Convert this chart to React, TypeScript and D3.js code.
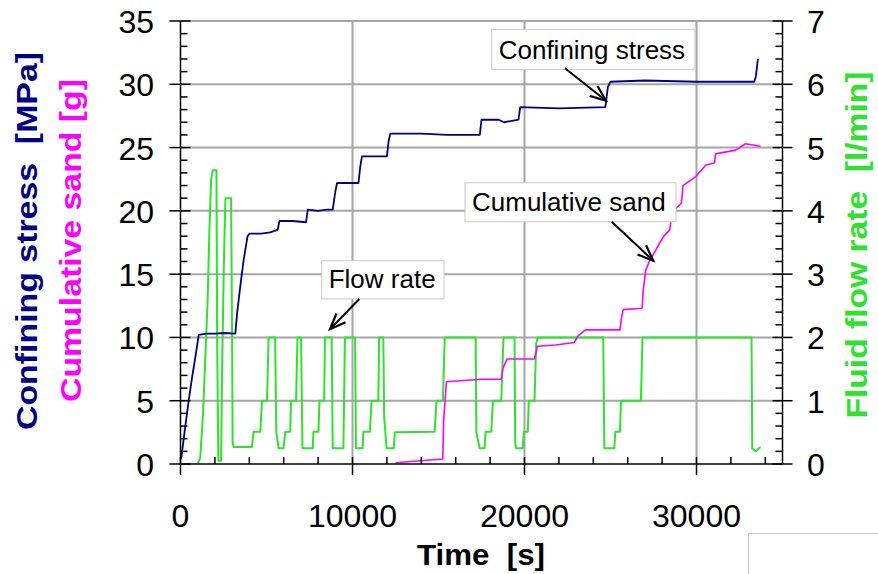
import * as d3 from "d3";

// time [s], confining stress [MPa]
const stress: [number, number][] = [
  [0, 0.4], [60, 0.58], [190, 2.05], [480, 5.05], [680, 6.9], [870, 8.5], [1060, 10.2],
  [1500, 10.3], [2000, 10.3], [2500, 10.35], [3190, 10.3], [3290, 11.9], [3480, 14.1],
  [3670, 16.1], [3900, 18.0], [4000, 18.2], [4700, 18.2], [5200, 18.3], [5650, 18.5],
  [5750, 19.2], [6500, 19.2], [7300, 19.1], [7400, 20.1], [8000, 20.0], [8500, 20.1],
  [8850, 20.1], [9000, 21.5], [9100, 22.2], [10350, 22.2], [10450, 23.5], [10550, 24.3],
  [12000, 24.3], [12100, 25.5], [12200, 26.1], [14000, 26.1], [15500, 26.0], [16500, 26.0],
  [17400, 26.0], [17500, 27.2], [18500, 27.2], [18800, 27.0], [19650, 27.2], [19750, 28.2],
  [22000, 28.1], [24700, 28.2], [24850, 29.8], [25000, 30.2], [27000, 30.3], [30000, 30.2],
  [33350, 30.2], [33450, 30.6], [33570, 32.0],
];

// time [s], cumulative sand [g]
const sand: [number, number][] = [
  [12500, 0.1], [13400, 0.2], [14300, 0.3], [15250, 0.4], [15300, 3.5], [15460, 6.5],
  [16500, 6.6], [17500, 6.7], [18650, 6.7], [18750, 7.6], [19000, 8.3], [20580, 8.3],
  [20680, 8.9], [20750, 9.3], [21800, 9.4], [22900, 9.6], [23100, 10.1], [23540, 10.6],
  [25550, 10.6], [25650, 11.6], [25740, 12.2], [26840, 12.3], [26900, 13.7], [27050, 15.3],
  [27250, 16.0], [27630, 16.9], [27830, 17.4], [28100, 18.0], [28450, 18.5], [28560, 19.8],
  [28800, 20.2], [29120, 20.6], [29220, 22.0], [29950, 22.7], [30530, 23.6], [31050, 23.8],
  [31110, 24.5], [32270, 24.8], [32850, 25.3], [33720, 25.1],
];

// time [s], fluid flow rate [l/min]
const flow: [number, number][] = [
  [1000, 0.0], [1150, 0.1], [1315, 0.83], [1580, 2.6], [1680, 3.7], [1780, 4.49], [1870, 4.64],
  [2090, 4.64], [2130, 2.0], [2200, 0.05], [2360, 0.05], [2420, 1.5], [2510, 3.0], [2610, 4.2],
  [2940, 4.2], [3000, 2.0], [3030, 0.33], [3100, 0.27], [4150, 0.27], [4250, 0.51],
  [4640, 0.51], [4740, 1.0], [5030, 1.0], [5120, 2.0], [5500, 2.0], [5570, 0.5], [5700, 0.25],
  [5990, 0.25], [6090, 0.51], [6380, 0.51], [6420, 1.0], [6720, 1.0], [6800, 2.0], [7010, 2.0],
  [7090, 0.25], [7690, 0.25], [7730, 0.51], [8020, 0.51], [8080, 1.0], [8350, 1.0], [8400, 2.0],
  [8790, 2.0], [8850, 0.25], [9470, 0.25], [9560, 2.0], [10150, 2.0], [10200, 0.25],
  [10590, 0.25], [10630, 0.51], [11010, 0.51], [11110, 1.0], [11500, 1.0], [11550, 2.0],
  [11790, 2.0], [11840, 0.75], [11980, 0.25], [12400, 0.25], [12460, 0.5], [14780, 0.51],
  [14880, 1.0], [15260, 1.0], [15360, 2.0], [17160, 2.0], [17200, 0.5], [17390, 0.25],
  [17680, 0.25], [17740, 0.51], [18070, 0.51], [18160, 1.0], [18650, 1.0], [18710, 1.5],
  [18780, 2.0], [19420, 2.0], [19460, 0.33], [19520, 0.25], [19900, 0.25], [19960, 0.51],
  [20190, 0.51], [20250, 1.0], [20580, 1.0], [20680, 1.9], [20770, 2.0], [24580, 2.0],
  [24640, 0.25], [25220, 0.25], [25280, 0.51], [25550, 0.51], [25610, 1.0], [26770, 1.0],
  [26860, 2.0], [33200, 2.0], [33240, 0.25], [33450, 0.2], [33720, 0.27],
];

const xTicks = [0, 10000, 20000, 30000];
const leftTicks = [0, 5, 10, 15, 20, 25, 30, 35];
const rightTicks = [0, 1, 2, 3, 4, 5, 6, 7];

// annotation boxes in data units (time, MPa)
const notes = [
  { text: "Confining stress", t0: 18093, t1: 29913, vTop: 34.34, vBot: 31.18, from: [22355, 31.26], to: [24738, 28.7] },
  { text: "Cumulative sand", t0: 16540, t1: 28808, vTop: 22.22, vBot: 19.14, from: [25070, 19.14], to: [27488, 16.06] },
  { text: "Flow rate", t0: 8209, t1: 15320, vTop: 16.06, vBot: 13.04, from: [10395, 13.04], to: [8692, 10.65] },
];

const W = 878;
const H = 574;
const L = 180.5;
const R = 782.5;
const T = 21;
const B = 464;

const GRID = "#a6a6a6";
const NAVY = "#000080";
const MAGENTA = "#ff00ff";
const GREEN = "#2ee22e";
const FONT = "'Liberation Sans', Arial, sans-serif";
const NB = "\u00a0";

export default function App() {
  const x = d3.scaleLinear().domain([0, 35000]).range([L, R]);
  const yL = d3.scaleLinear().domain([0, 35]).range([B, T]);
  const yR = d3.scaleLinear().domain([0, 7]).range([B, T]);

  const lineL = d3.line<[number, number]>().x((d) => x(d[0])).y((d) => yL(d[1]));
  const lineR = d3.line<[number, number]>().x((d) => x(d[0])).y((d) => yR(d[1]));

  const xMinor = d3.range(0, 35000, 2000).filter((v) => v % 10000 !== 0);
  const lMinor = d3.range(0, 35, 1).filter((v) => v % 5 !== 0);
  const rMinor = d3.range(1, 35, 1).filter((v) => v % 5 !== 0).map((v) => v / 5);

  const arrowHead = (from: number[], to: number[]) => {
    const x1 = x(from[0]), y1 = yL(from[1]), x2 = x(to[0]), y2 = yL(to[1]);
    const a = Math.atan2(y2 - y1, x2 - x1);
    const len = 17;
    const p = (da: number) => [x2 - len * Math.cos(a + da), y2 - len * Math.sin(a + da)];
    const [ax, ay] = p(0.38);
    const [bx, by] = p(-0.38);
    return `M${ax},${ay}L${x2},${y2}L${bx},${by}`;
  };

  return (
    <svg width={W} height={H} style={{ position: "absolute", left: 0, top: 0, background: "#fff" }} fontFamily={FONT}>
      {/* grid */}
      {leftTicks.filter((v) => v > 0).map((v) => (
        <line key={"gh" + v} x1={L} x2={R} y1={yL(v)} y2={yL(v)} stroke={GRID} strokeWidth={2} />
      ))}
      {xTicks.filter((v) => v > 0).map((v) => (
        <line key={"gv" + v} x1={x(v)} x2={x(v)} y1={T} y2={B} stroke={GRID} strokeWidth={2} />
      ))}

      {/* series */}
      <path d={lineR(flow) || ""} fill="none" stroke={GREEN} strokeWidth={2} strokeLinejoin="round" />
      <path d={lineL(stress) || ""} fill="none" stroke={NAVY} strokeWidth={1.8} strokeLinejoin="round" />
      <path d={lineL(sand) || ""} fill="none" stroke={MAGENTA} strokeWidth={1.6} strokeLinejoin="round" />

      {/* axes */}
      <g stroke="#000" strokeWidth={1.5}>
        <line x1={L} x2={L} y1={T} y2={B} />
        <line x1={R} x2={R} y1={T} y2={B} />
        <line x1={L} x2={R} y1={B} y2={B} />
        {leftTicks.map((v) => (
          <line key={"lt" + v} x1={L - 11} x2={L + 10} y1={yL(v)} y2={yL(v)} />
        ))}
        {lMinor.map((v) => (
          <line key={"lm" + v} x1={L} x2={L + 7} y1={yL(v)} y2={yL(v)} />
        ))}
        {rightTicks.map((v) => (
          <line key={"rt" + v} x1={R - 10} x2={R + 10} y1={yR(v)} y2={yR(v)} />
        ))}
        {rMinor.map((v) => (
          <line key={"rm" + v} x1={R - 7} x2={R} y1={yR(v)} y2={yR(v)} />
        ))}
        {xTicks.map((v) => (
          <line key={"xt" + v} x1={x(v)} x2={x(v)} y1={B - 7} y2={B + 11} />
        ))}
        {xMinor.map((v) => (
          <line key={"xm" + v} x1={x(v)} x2={x(v)} y1={B - 7} y2={B} />
        ))}
      </g>

      {/* tick labels */}
      <g fontSize={32} fill="#000">
        {leftTicks.map((v) => (
          <text key={"ll" + v} x={154} y={yL(v) + 12} textAnchor="end">{v}</text>
        ))}
        {rightTicks.map((v) => (
          <text key={"rl" + v} x={807} y={yR(v) + 12}>{v}</text>
        ))}
        {xTicks.map((v) => (
          <text key={"xl" + v} x={x(v)} y={527} textAnchor="middle">{v}</text>
        ))}
      </g>

      {/* axis titles */}
      <g fontWeight="bold" fontSize={29}>
        <text x={481} y={565} textAnchor="middle" fill="#000" textLength={128} lengthAdjust="spacingAndGlyphs">
          {"Time " + NB + "[s]"}
        </text>
        <text transform="translate(37,241) rotate(-90)" textAnchor="middle" fill={NAVY} textLength={378} lengthAdjust="spacingAndGlyphs">
          {"Confining stress " + NB + "[MPa]"}
        </text>
        <text transform="translate(81,240.5) rotate(-90)" textAnchor="middle" fill={MAGENTA} textLength={323} lengthAdjust="spacingAndGlyphs">
          {"Cumulative sand [g]"}
        </text>
        <text transform="translate(867,245) rotate(-90)" textAnchor="middle" fill={GREEN} textLength={347} lengthAdjust="spacingAndGlyphs">
          {"Fluid flow rate " + NB + "[l/min]"}
        </text>
      </g>

      {/* annotations */}
      {notes.map((n) => (
        <g key={n.text}>
          <rect x={x(n.t0)} y={yL(n.vTop)} width={x(n.t1) - x(n.t0)} height={yL(n.vBot) - yL(n.vTop)} fill="#fff" stroke="#c8c8c8" strokeWidth={1} />
          <text x={x(n.t0) + 7} y={yL(n.vBot) - 10.5} fontSize={26} fill="#000">{n.text}</text>
          <line x1={x(n.from[0])} y1={yL(n.from[1])} x2={x(n.to[0])} y2={yL(n.to[1])} stroke="#000" strokeWidth={2} />
          <path d={arrowHead(n.from, n.to)} fill="none" stroke="#000" strokeWidth={2.2} strokeLinejoin="miter" />
        </g>
      ))}

      {/* empty frame, bottom right */}
      <rect x={748.5} y={533.5} width={140} height={60} fill="#fff" stroke="#c8c8c8" strokeWidth={1} />
    </svg>
  );
}
